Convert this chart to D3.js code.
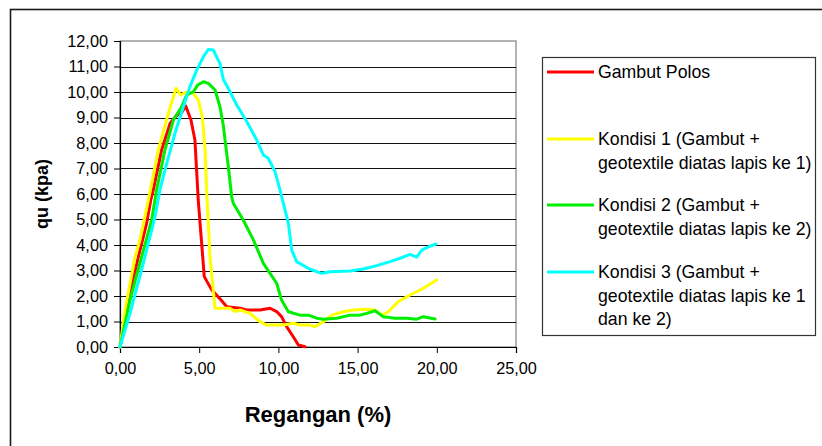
<!DOCTYPE html>
<html>
<head>
<meta charset="utf-8">
<script src="https://cdn.jsdelivr.net/npm/d3@7"></script>
<style>
  html, body { margin: 0; padding: 0; background: #ffffff; }
  svg { display: block; font-family: "Liberation Sans", Arial, sans-serif; }
</style>
</head>
<body>
<svg id="chart" width="822" height="446"></svg>
<script>
// Unconfined compression test: strain (%) vs qu (kpa)
const xTicks = [0, 5, 10, 15, 20, 25];
const yTicks = [0, 1, 2, 3, 4, 5, 6, 7, 8, 9, 10, 11, 12];

const seriesNames = [
  ["Gambut Polos"],
  ["Kondisi 1 (Gambut +", "geotextile diatas lapis ke 1)"],
  ["Kondisi 2 (Gambut +", "geotextile diatas lapis ke 2)"],
  ["Kondisi 3 (Gambut +", "geotextile diatas lapis ke 1", "dan ke 2)"]
];
const seriesColors = ["#ff0000", "#ffff00", "#00ee00", "#00ffff"];

// [strain %, qu kpa]
const gambutPolos = [
  [0, 0], [0.53, 1.84], [1.16, 3.54], [1.68, 4.85], [1.94, 5.76], [2.1, 6.16],
  [2.63, 7.73], [3.16, 8.77], [3.54, 9.06], [3.9, 9.2], [4.15, 9.45], [4.48, 8.9],
  [4.73, 8.12], [4.94, 5.76], [5.32, 2.76], [5.79, 2.24], [6.38, 1.84],
  [6.74, 1.58], [7.58, 1.52], [8.0, 1.45], [8.84, 1.45], [9.47, 1.52],
  [9.89, 1.39], [10.2, 1.19], [10.52, 0.8], [10.94, 0.4], [11.26, 0.08], [11.68, 0.01]
];
const kondisi1 = [
  [0, 0], [0.32, 1.45], [0.95, 3.54], [1.26, 4.2], [1.79, 5.76], [2.42, 7.73],
  [3.05, 9.16], [3.54, 10.15], [3.83, 9.88], [4.21, 10.01], [4.63, 9.95],
  [4.94, 9.69], [5.2, 9.03], [5.37, 7.73], [5.47, 6.16], [5.68, 3.54],
  [6.0, 1.52], [6.94, 1.52], [7.26, 1.39], [7.58, 1.45], [8.21, 1.32],
  [8.84, 0.99], [9.26, 0.86], [10.31, 0.86], [10.94, 0.93], [11.36, 0.86],
  [12.0, 0.86], [12.31, 0.8], [12.83, 0.99], [13.36, 1.25], [14.1, 1.38],
  [14.73, 1.45], [15.47, 1.48], [16.1, 1.45], [16.52, 1.25], [16.94, 1.38],
  [17.57, 1.78], [18.31, 2.04], [19.15, 2.3], [19.99, 2.63]
];
const kondisi2 = [
  [0, 0], [0.63, 1.84], [1.37, 3.54], [2.0, 4.98], [2.31, 6.16], [2.84, 7.73],
  [3.37, 8.9], [3.89, 9.42], [4.21, 9.88], [4.63, 10.01], [4.9, 10.27],
  [5.26, 10.4], [5.58, 10.34], [6.0, 10.08], [6.31, 9.42], [6.52, 8.7],
  [6.63, 8.12], [6.84, 7.07], [7.05, 5.89], [7.15, 5.64], [7.78, 4.98],
  [8.42, 4.2], [9.05, 3.28], [9.89, 2.5], [10.2, 1.84], [10.63, 1.38],
  [11.36, 1.25], [11.89, 1.25], [12.42, 1.13], [12.83, 1.09], [13.68, 1.13],
  [14.52, 1.25], [15.15, 1.25], [15.57, 1.32], [16.1, 1.42], [16.62, 1.19],
  [17.36, 1.13], [18.1, 1.13], [18.73, 1.09], [19.15, 1.19], [19.89, 1.1]
];
const kondisi3 = [
  [0, 0], [0.63, 1.32], [1.47, 3.28], [2.21, 5.11], [2.52, 6.16], [2.95, 7.2],
  [3.47, 8.38], [4.0, 9.42], [4.42, 10.21], [4.84, 10.86], [5.26, 11.38],
  [5.58, 11.67], [5.89, 11.65], [6.1, 11.38], [6.31, 11.12], [6.52, 10.5],
  [6.84, 10.14], [7.37, 9.49], [8.0, 8.84], [8.63, 8.12], [9.05, 7.53],
  [9.36, 7.4], [9.79, 6.87], [10.1, 6.16], [10.63, 4.85], [10.84, 3.8],
  [11.15, 3.35], [12.0, 3.05], [12.73, 2.89], [13.26, 2.95], [14.52, 2.98],
  [15.36, 3.06], [16.21, 3.19], [17.05, 3.35], [17.68, 3.48], [18.31, 3.63],
  [18.73, 3.52], [19.05, 3.8], [19.47, 3.93], [19.95, 4.04]
];
const seriesData = [gambutPolos, kondisi1, kondisi2, kondisi3];

const fmt = v => d3.format(".2f")(v).replace(".", ",");

const svg = d3.select("#chart");
const plot = { left: 120, right: 516, top: 41, bottom: 347 };

const x = d3.scaleLinear().domain([0, 25]).range([plot.left, plot.right]);
const y = d3.scaleLinear().domain([0, 12]).range([plot.bottom, plot.top]);

// Chart frame
svg.append("rect")
  .attr("x", 10.5).attr("y", 9.5).attr("width", 840).attr("height", 460)
  .attr("fill", "none").attr("stroke", "#1a1a1a").attr("stroke-width", 1.6);

// Plot area
svg.append("rect")
  .attr("x", plot.left).attr("y", plot.top)
  .attr("width", plot.right - plot.left).attr("height", plot.bottom - plot.top)
  .attr("fill", "#ffffff").attr("stroke", "#808080").attr("stroke-width", 1.2);

// Horizontal gridlines
svg.append("g")
  .selectAll("line")
  .data(yTicks.filter(t => t > 0 && t < 12))
  .join("line")
  .attr("x1", plot.left).attr("x2", plot.right)
  .attr("y1", d => Math.round(y(d)) + 0.5).attr("y2", d => Math.round(y(d)) + 0.5)
  .attr("stroke", "#111").attr("stroke-width", 1);

// Axes
const yAxis = d3.axisLeft(y).tickValues(yTicks).tickFormat(fmt).tickSize(6).tickPadding(6);
const xAxis = d3.axisBottom(x).tickValues(xTicks).tickFormat(fmt).tickSize(6).tickPadding(9);

const gy = svg.append("g").attr("transform", `translate(${plot.left},0)`).call(yAxis);
const gx = svg.append("g").attr("transform", `translate(0,${plot.bottom})`).call(xAxis);
[gx, gy].forEach(g => {
  g.select(".domain").attr("stroke", "#000").attr("stroke-width", 1.2);
  g.selectAll(".tick line").attr("stroke", "#000");
  g.selectAll(".tick text")
    .attr("fill", "#000")
    .style("font-family", '"Liberation Sans", Arial, sans-serif')
    .style("font-size", "16.3px");
});

// Data lines
const line = d3.line().x(d => x(d[0])).y(d => y(d[1]));
svg.append("g")
  .selectAll("path")
  .data(seriesData)
  .join("path")
  .attr("d", line)
  .attr("fill", "none")
  .attr("stroke", (d, i) => seriesColors[i])
  .attr("stroke-width", 3)
  .attr("stroke-linejoin", "round")
  .attr("stroke-linecap", "round");

// Axis titles
svg.append("text")
  .attr("x", (plot.left + plot.right) / 2).attr("y", 422)
  .attr("text-anchor", "middle")
  .style("font-weight", "bold").style("font-size", "22px")
  .text("Regangan (%)");

svg.append("text")
  .attr("transform", `translate(48,${(plot.top + plot.bottom) / 2}) rotate(-90)`)
  .attr("text-anchor", "middle")
  .style("font-weight", "bold").style("font-size", "18px")
  .text("qu (kpa)");

// Legend
const legend = svg.append("g");
legend.append("rect")
  .attr("x", 542.5).attr("y", 57.5).attr("width", 273).attr("height", 278)
  .attr("fill", "#ffffff").attr("stroke", "#333").attr("stroke-width", 1.2);

const legendTop = [72, 139, 205, 272];
const lineStep = 23.5;
seriesNames.forEach((lines, i) => {
  const g = legend.append("g");
  g.append("line")
    .attr("x1", 547).attr("x2", 594)
    .attr("y1", legendTop[i]).attr("y2", legendTop[i])
    .attr("stroke", seriesColors[i]).attr("stroke-width", 3);
  lines.forEach((t, j) => {
    g.append("text")
      .attr("x", 598).attr("y", legendTop[i] + j * lineStep + 6)
      .style("font-size", "17.7px")
      .text(t);
  });
});
</script>
</body>
</html>
